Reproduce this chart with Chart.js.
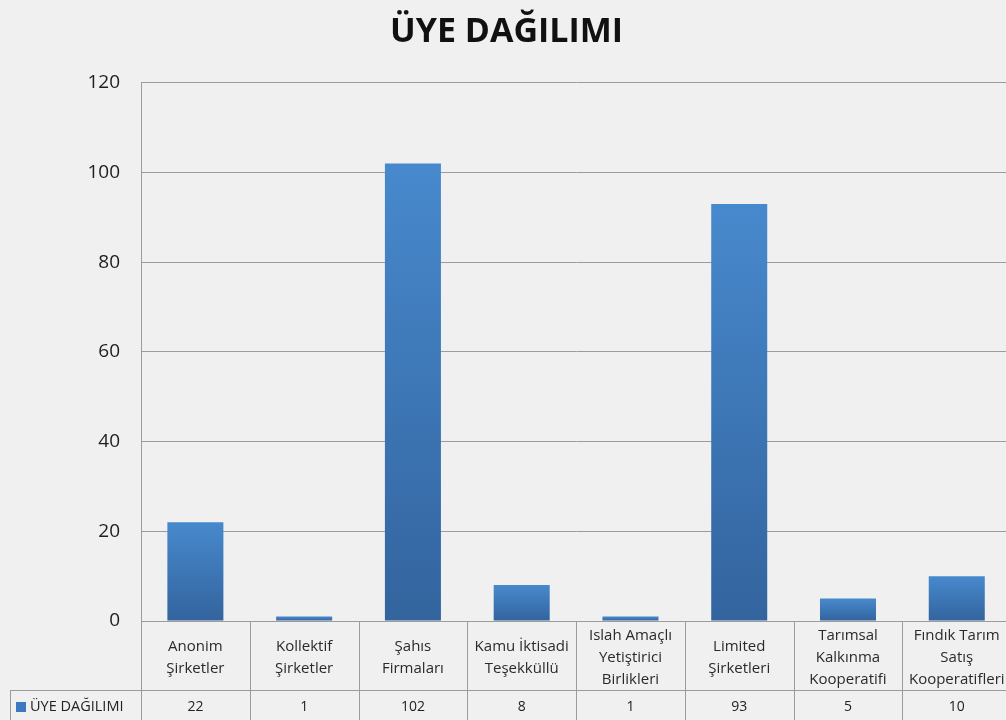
<!DOCTYPE html>
<html>
<head>
<meta charset="utf-8">
<script src="https://cdn.jsdelivr.net/npm/chart.js@4/dist/chart.umd.min.js"></script>
<style>
  html, body { margin: 0; padding: 0; background: #f0f0f0; overflow: hidden; }
  canvas { display: block; }
</style>
</head>
<body>
<canvas id="c" width="1020" height="720"></canvas>
<script>
const chartTitle = 'ÜYE DAĞILIMI';
const seriesName = 'ÜYE DAĞILIMI';
const categories = [
  ['Anonim', 'Şirketler'],
  ['Kollektif', 'Şirketler'],
  ['Şahıs', 'Firmaları'],
  ['Kamu İktisadi', 'Teşekküllü'],
  ['Islah Amaçlı', 'Yetiştirici', 'Birlikleri'],
  ['Limited', 'Şirketleri'],
  ['Tarımsal', 'Kalkınma', 'Kooperatifi'],
  ['Fındık Tarım', 'Satış', 'Kooperatifleri']
];
const values = [22, 1, 102, 8, 1, 93, 5, 10];
const yTicks = [0, 20, 40, 60, 80, 100, 120];

const FONT = '"Open Sans", "DejaVu Sans", sans-serif';
const LINE = '#9c9c9c';

const barGradient = (ctx) => {
  const chart = ctx.chart;
  if (!chart.chartArea || ctx.type !== 'data') return '#3f7cc0';
  const ys = chart.scales.y;
  const top = ys.getPixelForValue(ctx.raw);
  const bot = ys.getPixelForValue(0);
  if (!isFinite(top) || !isFinite(bot) || Math.abs(bot - top) < 1) return '#4688cc';
  const g = chart.ctx.createLinearGradient(0, top, 0, bot);
  g.addColorStop(0, '#4789cd');
  g.addColorStop(1, '#33649e');
  return g;
};

const tablePlugin = {
  id: 'tablePlugin',
  beforeDraw(chart) {
    const c = chart.ctx;
    c.save();
    c.fillStyle = '#f0f0f0';
    c.fillRect(0, 0, chart.width, chart.height);
    c.restore();
  },
  afterDraw(chart) {
    const c = chart.ctx;
    const xs = chart.scales.x;
    const area = chart.chartArea;
    const n = categories.length;
    const step = (xs.right - xs.left) / n;
    const rowY = area.bottom + 69;
    const H = chart.height;
    c.save();
    c.strokeStyle = LINE;
    c.lineWidth = 1;
    c.beginPath();
    for (let i = 0; i <= n; i++) {
      const x = Math.round(xs.left + i * step) + 0.5;
      c.moveTo(x, area.bottom);
      c.lineTo(x, H);
    }
    c.moveTo(10.5, rowY);
    c.lineTo(10.5, H);
    c.moveTo(10, rowY + 0.5);
    c.lineTo(chart.width, rowY + 0.5);
    c.stroke();

    const midY = rowY + 17;
    c.fillStyle = '#222';
    c.font = '14px ' + FONT;
    c.textAlign = 'center';
    c.textBaseline = 'middle';
    values.forEach((v, i) => {
      c.fillText(String(v), xs.getPixelForValue(i), midY);
    });

    c.fillStyle = '#3c79c0';
    c.fillRect(16, midY - 5, 10, 10);
    c.fillStyle = '#222';
    c.textAlign = 'left';
    c.font = '14.5px ' + FONT;
    c.fillText(seriesName, 30, midY);
    c.restore();
  }
};

new Chart(document.getElementById('c'), {
  type: 'bar',
  data: {
    labels: categories,
    datasets: [{
      label: seriesName,
      data: values,
      backgroundColor: barGradient,
      borderWidth: 0,
      barPercentage: 0.515,
      categoryPercentage: 1
    }]
  },
  options: {
    responsive: false,
    animation: false,
    devicePixelRatio: 1,
    layout: { padding: { left: 0, right: 7, top: 0, bottom: 0 } },
    plugins: {
      legend: { display: false },
      tooltip: { enabled: false },
      title: {
        display: true,
        text: chartTitle,
        color: '#111',
        font: { family: FONT, size: 34, weight: 'bold', lineHeight: 1.2 },
        padding: { top: 12, bottom: 30 }
      }
    },
    scales: {
      x: {
        grid: { display: false, drawTicks: false },
        border: { display: true, color: LINE },
        ticks: {
          color: '#2a2a2a',
          font: { family: FONT, size: 15, lineHeight: 1.47 },
          maxRotation: 0,
          autoSkip: false,
          crossAlign: 'center',
          padding: 15
        },
        afterFit(scale) { scale.height = 99; }
      },
      y: {
        min: 0,
        max: 120,
        afterBuildTicks(scale) { scale.ticks = yTicks.map(v => ({ value: v })); },
        grid: { color: LINE, drawTicks: false },
        border: { display: true, color: LINE },
        ticks: {
          color: '#1e1e1e',
          font: { family: FONT, size: 19 },
          padding: 21
        },
        afterFit(scale) { scale.width = 141; }
      }
    }
  },
  plugins: [tablePlugin]
});
</script>
</body>
</html>
